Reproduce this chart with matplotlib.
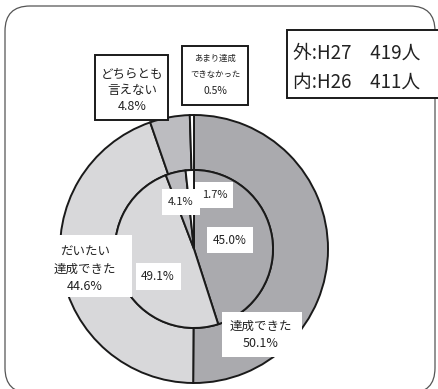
import matplotlib.pyplot as plt
from matplotlib.patches import FancyBboxPatch, Rectangle

plt.rcParams['font.family'] = ['Noto Sans CJK JP', 'DejaVu Sans']

# outer ring: H27, inner pie: H26 (clockwise from 12 o'clock)
categories = ['達成できた', 'だいたい達成できた', 'どちらとも言えない', 'あまり達成できなかった']
h27_values = [50.1, 44.6, 4.8, 0.5]
h26_values = [45.0, 49.1, 4.1, 1.7]
h27_count = 419
h26_count = 411

colors = ['#aaaaae', '#d8d8da', '#bcbcc0', '#ffffff']

W, H = 438, 389
fig = plt.figure(figsize=(W / 100, H / 100), dpi=100)
ax = fig.add_axes([0, 0, 1, 1])

cx, cy = 194, H - 249
r_out, r_in = 134, 79

wedge_kw = dict(edgecolor='#1a1a1a', linewidth=1.4)
ax.pie(h27_values, colors=colors, radius=r_out, center=(cx, cy),
       startangle=90, counterclock=False,
       wedgeprops=dict(width=r_out - r_in, **wedge_kw))
ax.pie(h26_values, colors=colors, radius=r_in, center=(cx, cy),
       startangle=90, counterclock=False, wedgeprops=wedge_kw)

ax.set_xlim(0, W)
ax.set_ylim(0, H)
ax.set_aspect('equal')
ax.axis('off')

# rounded outer frame (bottom edge runs just below the image)
frame = FancyBboxPatch((5 + 25, H - 393 + 25), 430 - 50, 387 - 50,
                       boxstyle='round,pad=25', fill=False,
                       edgecolor='#555555', linewidth=0.9, zorder=0)
ax.add_patch(frame)


def label(x, y, text, size, box=None, border=False, **kw):
    if box is not None:
        x0, y0, x1, y1 = box
        ax.add_patch(Rectangle((x0, H - y1), x1 - x0, y1 - y0,
                               facecolor='white',
                               edgecolor='#1a1a1a' if border else 'none',
                               linewidth=1.4, zorder=5))
    ax.text(x, H - y, text, fontsize=size, ha='center', va='center',
            color='#222222', zorder=6, **kw)


def pct(v):
    return f'{v:.1f}%'


# inner labels
label(215, 195, pct(h26_values[3]), 8, box=(195, 182, 233, 208))
label(181, 202, pct(h26_values[2]), 8, box=(162, 189, 200, 215))
label(230, 240, pct(h26_values[0]), 8.5, box=(207, 227, 253, 253))
label(158, 277, pct(h26_values[1]), 8.5, box=(136, 263, 181, 290))

# outer labels
label(85, 269, 'だいたい\n達成できた\n' + pct(h27_values[1]), 9,
      box=(30, 235, 132, 297), linespacing=1.4)
label(261, 335, '達成できた\n' + pct(h27_values[0]), 9,
      box=(222, 312, 302, 357), linespacing=1.4)
label(132, 90, 'どちらとも\n言えない\n' + pct(h27_values[2]), 9,
      box=(95, 55, 168, 120), border=True, linespacing=1.3)
label(215, 58, 'あまり達成', 6, box=(182, 46, 248, 105), border=True)
label(215, 74, 'できなかった', 6)
label(215, 91, pct(h27_values[3]), 7.5)

# respondents box
ax.add_patch(Rectangle((287, H - 98), 160, 68, facecolor='white',
                       edgecolor='#1a1a1a', linewidth=1.4, zorder=5,
                       clip_on=False))
ax.text(293, H - 53, f'外:H27　{h27_count}人', fontsize=13.5, ha='left',
        va='center', color='#222222', zorder=6)
ax.text(293, H - 82, f'内:H26　{h26_count}人', fontsize=13.5, ha='left',
        va='center', color='#222222', zorder=6)

fig.savefig('out.png', dpi=100)
